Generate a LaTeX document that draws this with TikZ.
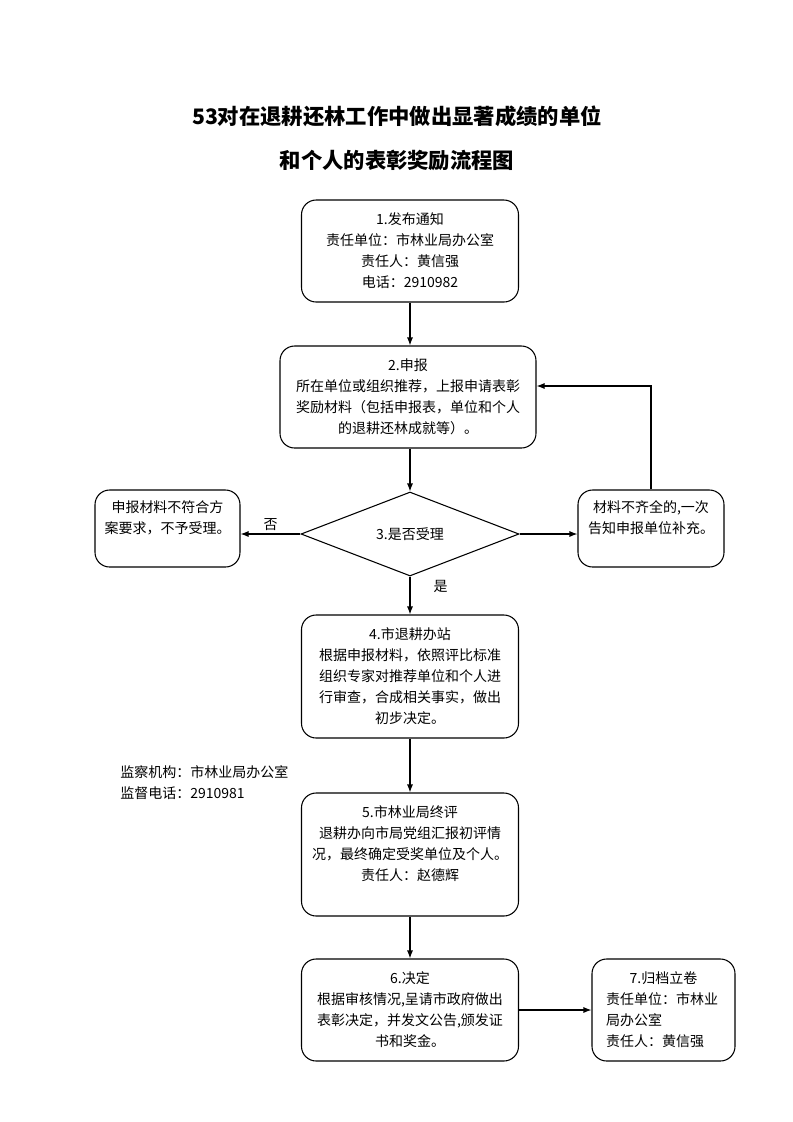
\documentclass[tikz,border=0pt]{standalone}
\usepackage{fontspec}
\setmainfont{Noto Sans CJK SC}
\usetikzlibrary{shapes.geometric,arrows.meta}

\begin{document}
\begin{tikzpicture}[x=0.75pt,y=0.75pt,yscale=-1,xscale=1,
  every node/.style={font=\fontsize{10.5}{15.75}\selectfont},
  flowbox/.style={draw,rounded corners=11pt,line width=0.8pt,align=center,inner sep=0.75pt},
  decide/.style={draw,diamond,aspect=2.6,line width=0.8pt,inner sep=0.75pt,minimum width=163.5pt,minimum height=63pt},
  conn/.style={line width=0.8pt,-{Latex[length=6pt,width=4.5pt]}}
]
%set diagram left start at 0, and has height of 1122
\useasboundingbox (0,0) rectangle (793,1122);

% Title
\node (title) at (397,138) [font=\fontsize{16}{33}\selectfont\bfseries,align=center] {53对在退耕还林工作中做出显著成绩的单位\\和个人的表彰奖励流程图};

% Text Node
\node (b1) at (410,251) [flowbox,minimum width=162.75pt,minimum height=76.5pt] {1.发布通知\\责任单位：市林业局办公室\\责任人：黄信强\\电话：2910982};
% Text Node
\node (b2) at (408,397) [flowbox,minimum width=192pt,minimum height=76.5pt] {2.申报\\所在单位或组织推荐，上报申请表彰\\奖励材料（包括申报表，单位和个人\\的退耕还林成就等）。};
% Text Node
\node (dia) at (410,534) [decide] {3.是否受理};
% Text Node
\node (nb) at (167.5,528.5) [flowbox,minimum width=108.75pt,minimum height=57.75pt] {申报材料不符合方\\案要求，不予受理。\\\phantom{字}};
% Text Node
\node (rb) at (651,528.5) [flowbox,minimum width=109.5pt,minimum height=57.75pt] {材料不齐全的,一次\\告知申报单位补充。\\\phantom{字}};
% Text Node
\node (b4) at (410,676.5) [flowbox,minimum width=162.75pt,minimum height=92.25pt] {4.市退耕办站\\根据申报材料，依照评比标准\\组织专家对推荐单位和个人进\\行审查，合成相关事实，做出\\初步决定。};
% Text Node
\node (mon) at (120,782.5) [anchor=west,align=left,inner sep=0pt] {监察机构：市林业局办公室\\监督电话：2910981};
% Text Node
\node (b5) at (410,854.5) [flowbox,minimum width=162.75pt,minimum height=92.25pt] {5.市林业局终评\\退耕办向市局党组汇报初评情\\况，最终确定受奖单位及个人。\\责任人：赵德辉\\\phantom{字}};
% Text Node
\node (b6) at (410,1010) [flowbox,minimum width=162.75pt,minimum height=76.5pt] {6.决定\\根据审核情况,呈请市政府做出\\表彰决定，并发文公告,颁发证\\书和奖金。};
% Text Node
\node (b7) at (663.5,1010) [flowbox,minimum width=107.25pt,minimum height=76.5pt,align=left,text width=86pt] {\makebox[86pt]{7.归档立卷}\\责任单位：市林业\\局办公室\\责任人：黄信强};

% Connection
\draw [conn] (b1.south) -- (b1.south |- b2.north);
% Connection
\draw [conn] (dia.north |- b2.south) -- (dia.north);
% Connection
\draw [conn] (dia.west) -- node [above,inner sep=2pt] {否} (dia.west -| nb.east);
% Connection
\draw [conn] (dia.east) -- (dia.east -| rb.west);
% Connection
\draw [conn] (rb.north) |- ([yshift=-8.25pt]b2.east);
% Connection
\draw [conn] (dia.south) -- node [pos=0.25,anchor=west,xshift=14pt] {是} (b4.north);
% Connection
\draw [conn] (b4) -- (b5);
% Connection
\draw [conn] (b5) -- (b6);
% Connection
\draw [conn] (b6) -- (b7);

\end{tikzpicture}
\end{document}
